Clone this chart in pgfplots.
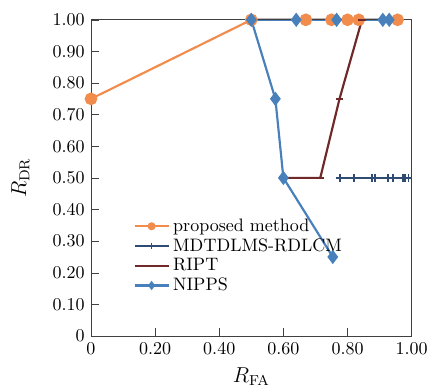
\documentclass[border=0pt]{standalone}
\usepackage{pgfplots}
\pgfplotsset{compat=1.18}
\definecolor{corange}{RGB}{242,140,76}
\definecolor{cnavy}{RGB}{45,75,115}
\definecolor{cred}{RGB}{112,40,40}
\definecolor{cblue}{RGB}{72,128,188}
\begin{document}
\begin{tikzpicture}
\begin{axis}[
  at={(0,0)}, anchor=south west,
  scale only axis, width=178pt, height=175.5pt,
  xmin=0, xmax=1, ymin=0, ymax=1,
  axis on top,
  axis line style={black!75},
  tick style={black!75},
  tick align=inside,
  xtick pos=left, ytick pos=left,
  xtick={0,0.2,0.4,0.6,0.8,1.0},
  xticklabels={0,0.20,0.40,0.60,0.80,1.00},
  ytick={0,0.1,0.2,0.3,0.4,0.5,0.6,0.7,0.8,0.9,1.0},
  yticklabels={0,0.10,0.20,0.30,0.40,0.50,0.60,0.70,0.80,0.90,1.00},
  ticklabel style={font=\normalsize},
  xlabel={$R_{\mathrm{FA}}$},
  ylabel={$R_{\mathrm{DR}}$},
  label style={font=\large},
  xlabel style={yshift=0pt},
  ylabel style={yshift=6pt},
  clip=false,
  legend style={draw=none, fill=none, at={(0.115,0.395)}, anchor=north west,
    row sep=-1.5pt, font=\normalsize},
  legend cell align=left,
  legend image code/.code={\draw[mark repeat=2,mark phase=2] plot coordinates {(0cm,0cm) (0.33cm,0cm) (0.66cm,0cm)};},
]
\addplot[color=corange, line width=1.2pt, mark=*, mark size=2.9pt, legend image post style={mark size=1.6pt}]
  coordinates {(0,0.75) (0.5,1.0) (0.67,1.0) (0.75,1.0) (0.80,1.0) (0.835,1.0) (0.956,1.0)};
\addlegendentry{proposed method}
\addplot[color=cnavy, line width=1.2pt, mark=+, mark size=2.2pt, mark options={line width=0.8pt}, legend image post style={mark size=1.6pt}]
  coordinates {(0.776,0.5) (0.82,0.5) (0.877,0.5) (0.885,0.5) (0.926,0.5) (0.942,0.5) (0.973,0.5) (0.979,0.5) (0.99,0.5)};
\addlegendentry{MDTDLMS-RDLCM}
\addplot[color=cred, line width=1.2pt, mark=-, mark size=2pt, legend image post style={mark size=0.5pt}]
  coordinates {(0.6,0.5) (0.715,0.5) (0.775,0.75) (0.845,1.0)};
\addlegendentry{RIPT}
\addplot[color=cblue, line width=1.2pt, mark=diamond*, mark size=3pt, legend image post style={mark size=1.6pt}]
  coordinates {(0.93,1.0) (0.91,1.0) (0.766,1.0) (0.64,1.0) (0.5,1.0) (0.575,0.75) (0.6,0.5) (0.754,0.25)};
\addlegendentry{NIPPS}
\end{axis}
\pgfresetboundingbox
\useasboundingbox (-50.5pt,-29.4pt) rectangle (190.4pt,186.5pt);
\end{tikzpicture}
\end{document}
